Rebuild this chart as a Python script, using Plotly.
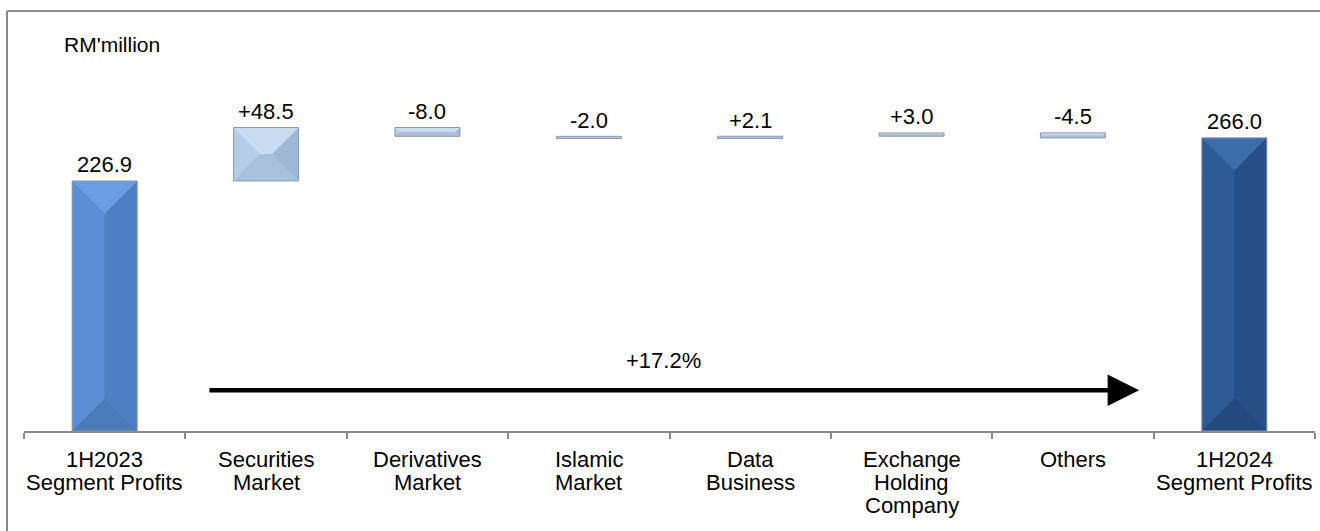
import plotly.graph_objects as go

# ---------------- data ----------------
categories = [
    "1H2023<br>Segment Profits",
    "Securities<br>Market",
    "Derivatives<br>Market",
    "Islamic<br>Market",
    "Data<br>Business",
    "Exchange<br>Holding<br>Company",
    "Others",
    "1H2024<br>Segment Profits",
]
start_value = 226.9
changes = [48.5, -8.0, -2.0, 2.1, 3.0, -4.5]
end_value = 266.0
unit_label = "RM'million"

# ---------------- layout constants ----------------
W, H = 1320, 531
ML, MR, MT, MB = 24, 5, 11, 100
PX_PER_UNIT_Y = 1.102
plot_w = W - ML - MR
plot_h = H - MT - MB
y_max = plot_h / PX_PER_UNIT_Y
x_range = [-0.5, len(categories) - 0.5]
px_per_x = plot_w / (x_range[1] - x_range[0])
bar_w = 0.403
FONT = "Arial, Liberation Sans, sans-serif"
FS = 22

# waterfall geometry from the data
bases, heights, labels, kinds = [], [], [], []
bases.append(0.0); heights.append(start_value); labels.append(f"{start_value:.1f}"); kinds.append("start")
run = start_value
for c in changes:
    lo = run if c >= 0 else run + c
    bases.append(lo); heights.append(abs(c)); labels.append(f"{c:+.1f}"); kinds.append("delta")
    run += c
bases.append(0.0); heights.append(end_value); labels.append(f"{end_value:.1f}"); kinds.append("end")

palette = {
    "start": dict(base="#5585CC", top="#6A9EE2", left="#5A8ED5", right="#4D7FC2", bottom="#4A7AB9"),
    "delta": dict(base="#AFC7E3", top="#C9DCF1", left="#B5CDE8", right="#9FB8D6", bottom="#A8C0DC"),
    "end": dict(base="#2A5690", top="#3D6DAB", left="#2D5B96", right="#264F87", bottom="#234A7E"),
}

fig = go.Figure()
fig.add_trace(go.Bar(
    x=list(range(len(categories))),
    y=heights,
    base=bases,
    width=bar_w,
    marker=dict(color=[palette[k]["base"] for k in kinds], line=dict(width=0)),
    hoverinfo="skip",
    showlegend=False,
))

shapes = []
for i, (b, h, k) in enumerate(zip(bases, heights, kinds)):
    L, R = i - bar_w / 2, i + bar_w / 2
    B, T = b, b + h
    w_px = bar_w * px_per_x
    h_px = h * PX_PER_UNIT_Y
    d = min(w_px, h_px) / 2
    dx, dy = d / px_per_x, d / PX_PER_UNIT_Y
    c = palette[k]
    polys = {
        "top": [(L, T), (R, T), (R - dx, T - dy), (L + dx, T - dy)],
        "bottom": [(L, B), (R, B), (R - dx, B + dy), (L + dx, B + dy)],
        "left": [(L, B), (L, T), (L + dx, T - dy), (L + dx, B + dy)],
        "right": [(R, B), (R, T), (R - dx, T - dy), (R - dx, B + dy)],
    }
    for face in ["left", "right", "top", "bottom"]:
        pts = polys[face]
        path = "M " + " L ".join(f"{px},{py}" for px, py in pts) + " Z"
        shapes.append(dict(type="path", path=path, xref="x", yref="y",
                           fillcolor=c[face], line=dict(width=0), layer="above"))
    shapes.append(dict(type="rect", x0=L, x1=R, y0=B, y1=T, xref="x", yref="y",
                       line=dict(color="#8E9AA8", width=1), fillcolor="rgba(0,0,0,0)", layer="above"))

# outer frame (top and left edges)
fx = (7 - ML) / plot_w
shapes.append(dict(type="line", xref="paper", yref="paper", x0=fx, x1=(W - ML) / plot_w, y0=1, y1=1,
                   line=dict(color="#8A8A8A", width=2)))
shapes.append(dict(type="line", xref="paper", yref="paper", x0=fx, x1=fx, y0=1, y1=-MB / plot_h,
                   line=dict(color="#8A8A8A", width=2)))

annotations = []
# value labels
for i, (b, h, t) in enumerate(zip(bases, heights, labels)):
    annotations.append(dict(x=i, y=b + h, xref="x", yref="y", text=t, showarrow=False,
                            yanchor="middle", yshift=16, font=dict(family=FONT, size=FS, color="#000")))
# category labels, line by line
for i, cat in enumerate(categories):
    for j, line in enumerate(cat.split("<br>")):
        annotations.append(dict(x=i, y=0, xref="x", yref="y", text=line, showarrow=False,
                                yanchor="middle", yshift=-(28 + 23 * j),
                                font=dict(family=FONT, size=FS, color="#000")))
# unit label
annotations.append(dict(x=(62 - ML) / plot_w, y=(H - MB - 44) / plot_h, xref="paper", yref="paper",
                        text=unit_label, showarrow=False, xanchor="left", yanchor="middle",
                        font=dict(family=FONT, size=21, color="#000")))
# growth arrow
growth = (end_value / start_value - 1) * 100
arrow_y = 37
annotations.append(dict(x=6.41, y=arrow_y, ax=0.64, ay=arrow_y, xref="x", yref="y", axref="x", ayref="y",
                        text="", showarrow=True, arrowhead=2, arrowsize=1.4, arrowwidth=4.5, arrowcolor="#000"))
annotations.append(dict(x=3.46, y=arrow_y, xref="x", yref="y", text=f"{growth:+.1f}%", showarrow=False,
                        yanchor="middle", yshift=30, font=dict(family=FONT, size=FS, color="#000")))

fig.update_layout(
    width=W, height=H,
    margin=dict(l=ML, r=MR, t=MT, b=MB, pad=0),
    plot_bgcolor="white", paper_bgcolor="white",
    shapes=shapes, annotations=annotations,
    xaxis=dict(range=x_range, tickvals=[x + 0.5 for x in range(-1, len(categories))],
               showticklabels=False, ticks="outside", ticklen=6, tickcolor="#8A8A8A", tickwidth=2,
               showline=True, linecolor="#8A8A8A", linewidth=2, showgrid=False, zeroline=False, fixedrange=True),
    yaxis=dict(range=[0, y_max], visible=False, fixedrange=True),
    bargap=0,
)

fig.write_html("out.html", config={"displayModeBar": False},
               post_script="document.body.style.margin='0';document.body.style.overflow='hidden';")
